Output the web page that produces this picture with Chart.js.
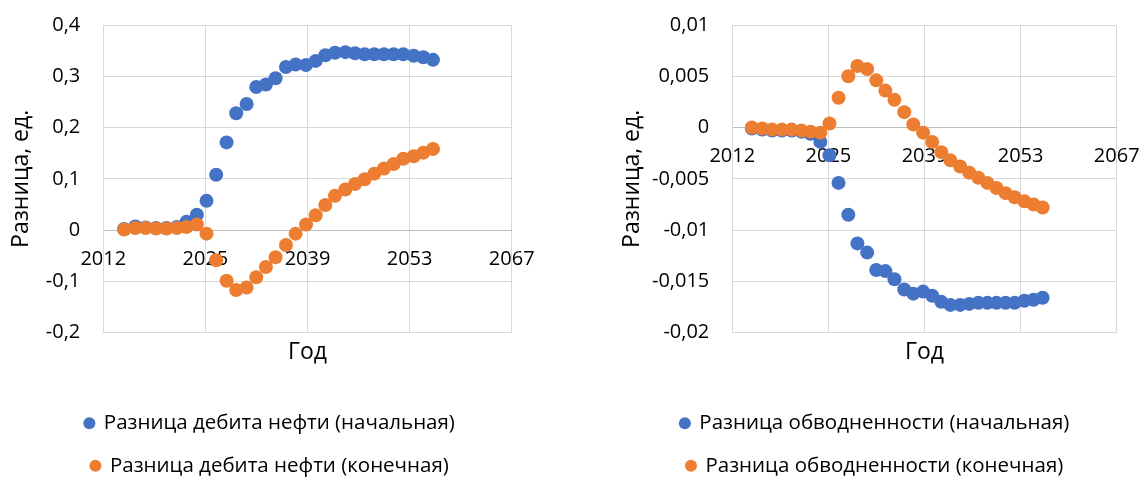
<!DOCTYPE html>
<html>
<head>
<meta charset="utf-8">
<script src="https://cdn.jsdelivr.net/npm/chart.js@4.4.1/dist/chart.umd.min.js"></script>
<style>
  html, body { margin: 0; padding: 0; background: #fff; overflow: hidden; width: 1143px; height: 477px; }
  canvas { position: absolute; top: 0; }
  #oilChart { left: 0; }
  #waterChart { left: 607px; }
</style>
</head>
<body>
<canvas id="oilChart" width="540" height="486"></canvas>
<canvas id="waterChart" width="536" height="486"></canvas>
<script>
// Simulation time steps (years)
const years = [2014.8, 2016.3, 2017.7, 2019.1, 2020.5, 2021.9, 2023.2, 2024.6, 2025.9, 2027.2,
  2028.6, 2029.9, 2031.3, 2032.6, 2033.9, 2035.2, 2036.6, 2037.9, 2039.3, 2040.6,
  2041.9, 2043.2, 2044.6, 2045.9, 2047.2, 2048.5, 2049.8, 2051.1, 2052.4, 2053.8,
  2055.1, 2056.4];

// Oil rate difference
const oilInitial = [0.002, 0.007, 0.005, 0.004, 0.004, 0.006, 0.016, 0.030, 0.057, 0.108,
  0.171, 0.228, 0.246, 0.279, 0.284, 0.296, 0.318, 0.323, 0.322, 0.330,
  0.341, 0.346, 0.347, 0.345, 0.343, 0.343, 0.343, 0.343, 0.343, 0.340,
  0.337, 0.332];
const oilFinal = [0.001, 0.004, 0.004, 0.003, 0.003, 0.004, 0.006, 0.011, -0.007, -0.059,
  -0.099, -0.117, -0.112, -0.092, -0.072, -0.053, -0.029, -0.007, 0.011, 0.029,
  0.049, 0.067, 0.079, 0.090, 0.099, 0.110, 0.120, 0.129, 0.139, 0.144,
  0.151, 0.158];

// Water cut difference
const waterInitial = [-0.0001, -0.0002, -0.0003, -0.0003, -0.0003, -0.0004, -0.0006, -0.0014, -0.0027, -0.0054,
  -0.0085, -0.0113, -0.0122, -0.0139, -0.0140, -0.0148, -0.0158, -0.0162, -0.0160, -0.0164,
  -0.0170, -0.0173, -0.0173, -0.0172, -0.0171, -0.0171, -0.0171, -0.0171, -0.0171, -0.0169,
  -0.0168, -0.0166];
const waterFinal = [0.0000, -0.0001, -0.0002, -0.0002, -0.0002, -0.0003, -0.0004, -0.0005, 0.0004, 0.0029,
  0.0050, 0.0060, 0.0057, 0.0046, 0.0036, 0.0027, 0.0015, 0.0003, -0.0005, -0.0014,
  -0.0024, -0.0032, -0.0038, -0.0044, -0.0049, -0.0054, -0.0059, -0.0064, -0.0068, -0.0072,
  -0.0075, -0.0078];

// Tick labels
const yearTickLabels = ['2012', '2025', '2039', '2053', '2067'];
const oilTickLabels = ['-0,2', '-0,1', '0', '0,1', '0,2', '0,3', '0,4'];
const waterTickLabels = ['-0,02', '-0,015', '-0,01', '-0,005', '0', '0,005', '0,01'];

const oilNames = ['Разница дебита нефти (начальная)', 'Разница дебита нефти (конечная)'];
const waterNames = ['Разница обводненности (начальная)', 'Разница обводненности (конечная)'];

const BLUE = '#4472C4';
const ORANGE = '#ED7D31';
const GRID = '#D9D9D9';
const TEXT = '#000000';
const FAMILY = "'Open Sans', sans-serif";
const TICK_FONT = { family: FAMILY, size: 20 };
const TITLE_FONT = { family: FAMILY, size: 23 };
const LEGEND_FONT = { family: FAMILY, size: 20.5 };

function pointsOf(values) {
  return years.map((x, i) => ({ x: x, y: values[i] }));
}

function buildChart(id, cfg) {
  return new Chart(document.getElementById(id), {
    type: 'scatter',
    data: {
      datasets: [
        { label: cfg.names[0], data: pointsOf(cfg.first), backgroundColor: BLUE, borderColor: BLUE,
          borderWidth: 0, pointRadius: 7, pointBorderWidth: 0, pointHoverRadius: 7, order: 1 },
        { label: cfg.names[1], data: pointsOf(cfg.second), backgroundColor: ORANGE, borderColor: ORANGE,
          borderWidth: 0, pointRadius: 7, pointBorderWidth: 0, pointHoverRadius: 7, order: 0 }
      ]
    },
    options: {
      responsive: false,
      animation: false,
      devicePixelRatio: 1,
      layout: { padding: { top: 25, left: 0, right: 0, bottom: 0 } },
      plugins: {
        tooltip: { enabled: false },
        legend: {
          position: 'bottom',
          labels: {
            usePointStyle: true, pointStyle: 'circle',
            boxWidth: 8.5, boxHeight: 8.5, padding: 22,
            color: TEXT, font: LEGEND_FONT,
            sort: (a, b) => a.datasetIndex - b.datasetIndex
          }
        }
      },
      scales: {
        x: {
          type: 'linear', position: { y: 0 },
          min: 2012, max: 2067,
          ticks: { stepSize: 13.75, autoSkip: false, maxRotation: 0, padding: 17,
                   color: TEXT, font: TICK_FONT, callback: (v, i) => yearTickLabels[i] },
          grid: { color: GRID, lineWidth: 1, drawTicks: false },
          border: { color: '#BFBFBF', width: 1 },
          afterFit: (s) => { s.paddingLeft = 0; s.paddingRight = 0; }
        },
        y: {
          type: 'linear', position: 'left',
          min: cfg.yMin, max: cfg.yMax,
          ticks: { stepSize: cfg.yStep, padding: 23, color: TEXT, font: TICK_FONT,
                   callback: (v, i) => cfg.yLabels[i] },
          grid: { color: GRID, lineWidth: 1, drawTicks: false },
          border: { color: GRID, width: 1 },
          title: { display: true, text: 'Разница, ед.', color: TEXT, font: TITLE_FONT,
                   padding: { top: cfg.titlePad, bottom: 0 } },
          afterFit: (s) => { s.width = cfg.yWidth; s.paddingTop = 0; s.paddingBottom = 0; }
        },
        xTitle: {
          type: 'linear', position: 'bottom',
          ticks: { display: false },
          grid: { display: false, drawTicks: false },
          border: { display: false },
          title: { display: true, text: 'Год', color: TEXT, font: TITLE_FONT, padding: { top: 0, bottom: 25 } },
          afterFit: (s) => { s.height = 58.4; }
        },
        rightGap: {
          type: 'linear', position: 'right',
          ticks: { display: false },
          grid: { display: false, drawTicks: false },
          border: { display: false },
          afterFit: (s) => { s.width = cfg.rightWidth; }
        }
      }
    }
  });
}

buildChart('oilChart', {
  names: oilNames, first: oilInitial, second: oilFinal,
  yMin: -0.2, yMax: 0.4, yStep: 0.1, yLabels: oilTickLabels,
  yWidth: 103.3, rightWidth: 28.3, titlePad: 8
});

buildChart('waterChart', {
  names: waterNames, first: waterInitial, second: waterFinal,
  yMin: -0.02, yMax: 0.01, yStep: 0.005, yLabels: waterTickLabels,
  yWidth: 125.3, rightWidth: 26.3, titlePad: 12
});
</script>
</body>
</html>
